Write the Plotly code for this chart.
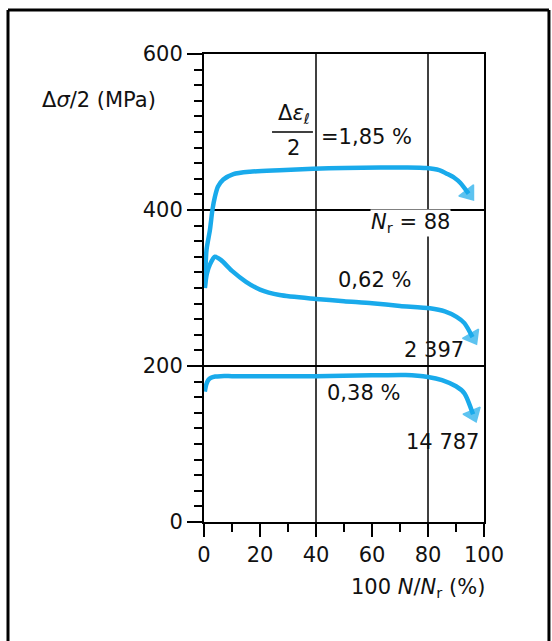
import plotly.graph_objects as go

# ---- data ----
X_TICKS = [0, 20, 40, 60, 80, 100]
Y_TICKS = [0, 200, 400, 600]
GRID_X = [40, 80]

X_185 = [0.3, 0.9, 2.1, 3.0, 3.9, 5.0, 6.9, 10.5, 16.4, 27, 39, 50, 63, 72, 79.5, 84, 87, 89.5, 91.5, 94.5]
Y_185 = [300, 349, 374, 400, 417, 430, 439, 446, 449, 451, 453, 454, 454.5, 454.5, 453.7, 451, 446, 441, 435, 421]

X_062 = [0.3, 1.0, 2.1, 3.9, 6, 10, 15, 20, 27, 40, 50, 60, 70, 80.7, 86, 90.2, 93, 95.9]
Y_062 = [300, 318, 330, 340, 336, 322, 308, 298, 291, 286, 283, 280.5, 277, 274, 270, 263, 255, 237]

X_038 = [0.3, 0.8, 1.5, 2.5, 4, 6, 10, 20, 40, 60, 72, 80, 85, 90, 93, 96.1]
Y_038 = [167, 176, 182, 185, 186.5, 187, 187, 187, 187, 188, 188.5, 186, 182, 174, 165, 138]

STRAIN_LABELS = ["=1,85 %", "0,62 %", "0,38 %"]
NR_LABELS = ["<i>N</i><sub>r</sub> = 88", "2 397", "14 787"]

# ---- style ----
BLUE = "#19AAEB"
FONT = "DejaVu Sans"
FS = 21

fig = go.Figure()
for xs, ys in [(X_185, Y_185), (X_062, Y_062), (X_038, Y_038)]:
    n = len(xs)
    fig.add_trace(go.Scatter(
        x=xs, y=ys, mode="lines+markers",
        line=dict(color=BLUE, width=4.5, shape="spline", smoothing=0.7),
        marker=dict(symbol="triangle-up", angleref="previous", color=BLUE,
                    size=[0] * (n - 1) + [16],
                    line=dict(color=BLUE, width=1.5)),
        showlegend=False, hoverinfo="skip", cliponaxis=False,
    ))

shapes = []
for gx in GRID_X:
    shapes.append(dict(type="line", xref="x", yref="paper", x0=gx, x1=gx, y0=0, y1=1,
                       line=dict(color="black", width=1.5), layer="below"))
# fraction bar
shapes.append(dict(type="line", xref="x", yref="y", x0=24.3, x1=38.9, y0=500, y1=500,
                   line=dict(color="black", width=1.5)))
# outer frame
frame = dict(color="black", width=3)
shapes.append(dict(type="line", xref="paper", yref="paper", x0=-0.7, x1=-0.7, y0=-0.3, y1=1.094, line=frame))
shapes.append(dict(type="line", xref="paper", yref="paper", x0=-0.7, x1=1.232, y0=1.094, y1=1.094, line=frame))
shapes.append(dict(type="line", xref="paper", yref="paper", x0=1.232, x1=1.232, y0=-0.3, y1=1.094, line=frame))

f = dict(family=FONT, size=FS, color="#111111")
ann = [
    dict(text="Δ<i>σ</i>/2 (MPa)", xref="paper", yref="paper", x=-0.586, y=0.902,
         xanchor="left", yanchor="middle", showarrow=False, font=f),
    dict(text="Δ<i>ε</i><sub><i>ℓ</i></sub>", x=32.1, y=523, showarrow=False, font=f),
    dict(text="2", x=31.8, y=479.5, showarrow=False, font=f),
    dict(text=STRAIN_LABELS[0], x=41.0, y=493.6, xanchor="left", showarrow=False, font=f),
    dict(text=NR_LABELS[0], x=73.6, y=383, showarrow=False, font=f, bgcolor="white", borderpad=0),
    dict(text=STRAIN_LABELS[1], x=60.9, y=310, showarrow=False, font=f),
    dict(text=NR_LABELS[1], x=82.1, y=220.5, showarrow=False, font=f),
    dict(text=STRAIN_LABELS[2], x=57, y=165, showarrow=False, font=f),
    dict(text=NR_LABELS[2], x=85.2, y=102.6, showarrow=False, font=f),
    dict(text="100 <i>N</i>/<i>N</i><sub>r</sub> (%)", xref="paper", yref="paper", x=1.011, y=-0.141,
         xanchor="right", yanchor="middle", showarrow=False, font=f),
]

fig.update_layout(
    width=552, height=641, autosize=False,
    margin=dict(l=204, r=68, t=54, b=119),
    paper_bgcolor="white", plot_bgcolor="white",
    font=f, shapes=shapes, annotations=ann, showlegend=False,
)
fig.update_xaxes(
    range=[0, 100], tickvals=X_TICKS, ticktext=[str(v) for v in X_TICKS],
    showline=True, linecolor="black", linewidth=2, mirror=True,
    ticks="outside", ticklen=13, tickwidth=2, tickcolor="black",
    minor=dict(dtick=10, tick0=0, ticks="outside", ticklen=8, tickwidth=2, tickcolor="black", showgrid=False),
    showgrid=False, zeroline=False, tickfont=f,
)
fig.update_yaxes(
    range=[0, 600], tickvals=Y_TICKS, ticktext=[str(v) for v in Y_TICKS],
    showline=True, linecolor="black", linewidth=2, mirror=True,
    ticks="outside", ticklen=15, tickwidth=2, tickcolor="black",
    minor=dict(dtick=20, tick0=0, ticks="outside", ticklen=8, tickwidth=2, tickcolor="black", showgrid=False),
    showgrid=True, gridcolor="black", gridwidth=1.5, zeroline=False, tickfont=f,
)
fig.write_html("out.html")
